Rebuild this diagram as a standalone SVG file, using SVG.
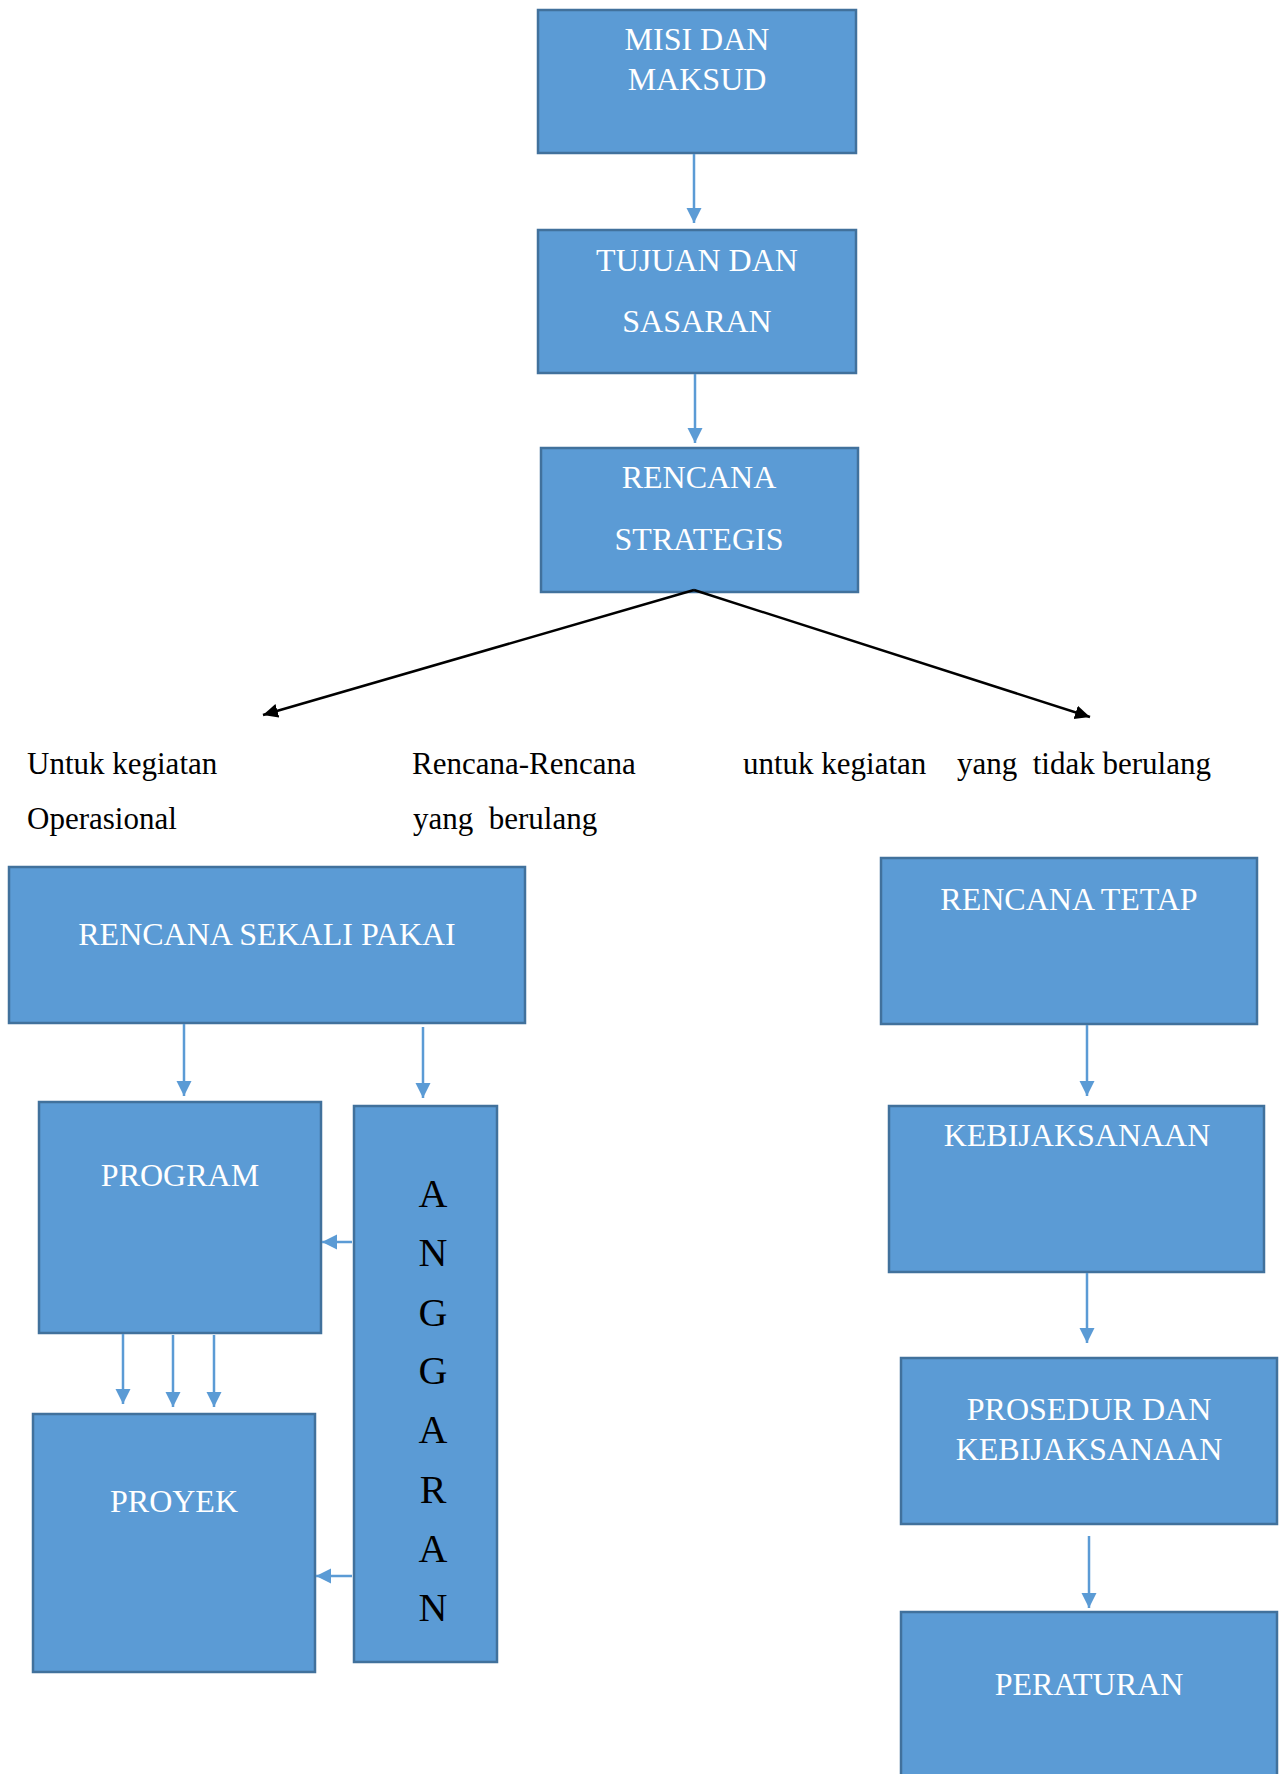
<svg xmlns="http://www.w3.org/2000/svg" width="1280" height="1774" viewBox="0 0 1280 1774">
<style>
.box{fill:#5B9BD5;stroke:#41719C;stroke-width:2.5}
.bt{font-family:"Liberation Serif","Times New Roman",serif;font-size:32px;fill:#FFFFFF;text-anchor:middle}
.lbl{font-family:"Liberation Serif","Times New Roman",serif;font-size:31px;fill:#000000;white-space:pre}
.ang{font-family:"Liberation Serif","Times New Roman",serif;font-size:40px;fill:#000000;text-anchor:middle}
.bc{stroke:#5B9BD5;stroke-width:2.5;fill:none;marker-end:url(#ab)}
.kc{stroke:#000000;stroke-width:2.5;fill:none;marker-end:url(#ak)}
</style>
<defs>
<marker id="ab" markerUnits="userSpaceOnUse" markerWidth="16" markerHeight="16" refX="15" refY="7.5" orient="auto">
<path d="M0,0 L15,7.5 L0,15 z" fill="#5B9BD5"/>
</marker>
<marker id="ak" markerUnits="userSpaceOnUse" markerWidth="16" markerHeight="16" refX="15" refY="7" orient="auto">
<path d="M0,0 L15,7 L0,14 z" fill="#000000"/>
</marker>
</defs>
<rect width="1280" height="1774" fill="#FFFFFF"/>

<g id="misi">
<rect class="box" x="538" y="10" width="318" height="143"/>
<text class="bt" x="697" y="50">MISI DAN</text>
<text class="bt" x="697" y="90">MAKSUD</text>
</g>
<g id="tujuan">
<rect class="box" x="538" y="230" width="318" height="143"/>
<text class="bt" x="697" y="271">TUJUAN DAN</text>
<text class="bt" x="697" y="332">SASARAN</text>
</g>
<g id="strategis">
<rect class="box" x="541" y="448" width="317" height="144"/>
<text class="bt" x="699" y="488">RENCANA</text>
<text class="bt" x="699" y="550">STRATEGIS</text>
</g>

<g id="labels">
<text class="lbl" x="27" y="774">Untuk kegiatan</text>
<text class="lbl" x="27" y="829">Operasional</text>
<text class="lbl" x="412" y="774">Rencana-Rencana</text>
<text class="lbl" x="413" y="829">yang  berulang</text>
<text class="lbl" x="743" y="774">untuk kegiatan</text>
<text class="lbl" x="957" y="774">yang  tidak berulang</text>
</g>

<g id="sekali">
<rect class="box" x="9" y="867" width="516" height="156"/>
<text class="bt" x="267" y="945">RENCANA SEKALI PAKAI</text>
</g>
<g id="program">
<rect class="box" x="39" y="1102" width="282" height="231"/>
<text class="bt" x="180" y="1186">PROGRAM</text>
</g>
<g id="anggaran">
<rect class="box" x="354" y="1106" width="143" height="556"/>
<text class="ang" x="433" y="1207">A</text>
<text class="ang" x="433" y="1266">N</text>
<text class="ang" x="433" y="1326">G</text>
<text class="ang" x="433" y="1384">G</text>
<text class="ang" x="433" y="1443">A</text>
<text class="ang" x="433" y="1503">R</text>
<text class="ang" x="433" y="1562">A</text>
<text class="ang" x="433" y="1621">N</text>
</g>
<g id="proyek">
<rect class="box" x="33" y="1414" width="282" height="258"/>
<text class="bt" x="174" y="1512">PROYEK</text>
</g>

<g id="tetap">
<rect class="box" x="881" y="858" width="376" height="166"/>
<text class="bt" x="1069" y="910">RENCANA TETAP</text>
</g>
<g id="kebijaksanaan">
<rect class="box" x="889" y="1106" width="375" height="166"/>
<text class="bt" x="1077" y="1146">KEBIJAKSANAAN</text>
</g>
<g id="prosedur">
<rect class="box" x="901" y="1358" width="376" height="166"/>
<text class="bt" x="1089" y="1420">PROSEDUR DAN</text>
<text class="bt" x="1089" y="1460">KEBIJAKSANAAN</text>
</g>
<g id="peraturan">
<rect class="box" x="901" y="1612" width="376" height="175"/>
<text class="bt" x="1089" y="1695">PERATURAN</text>
</g>

<g id="connectors">
<line class="bc" x1="694" y1="154" x2="694" y2="223"/>
<line class="bc" x1="695" y1="374" x2="695" y2="443"/>
<line class="kc" x1="694" y1="590" x2="263" y2="715"/>
<line class="kc" x1="694" y1="590" x2="1090" y2="717"/>
<line class="bc" x1="184" y1="1024" x2="184" y2="1096"/>
<line class="bc" x1="423" y1="1027" x2="423" y2="1098"/>
<line class="bc" x1="352" y1="1242" x2="322" y2="1242"/>
<line class="bc" x1="123" y1="1334" x2="123" y2="1404"/>
<line class="bc" x1="173" y1="1335" x2="173" y2="1407"/>
<line class="bc" x1="214" y1="1335" x2="214" y2="1407"/>
<line class="bc" x1="352" y1="1576" x2="316" y2="1576"/>
<line class="bc" x1="1087" y1="1025" x2="1087" y2="1096"/>
<line class="bc" x1="1087" y1="1273" x2="1087" y2="1343"/>
<line class="bc" x1="1089" y1="1536" x2="1089" y2="1608"/>
</g>
</svg>
